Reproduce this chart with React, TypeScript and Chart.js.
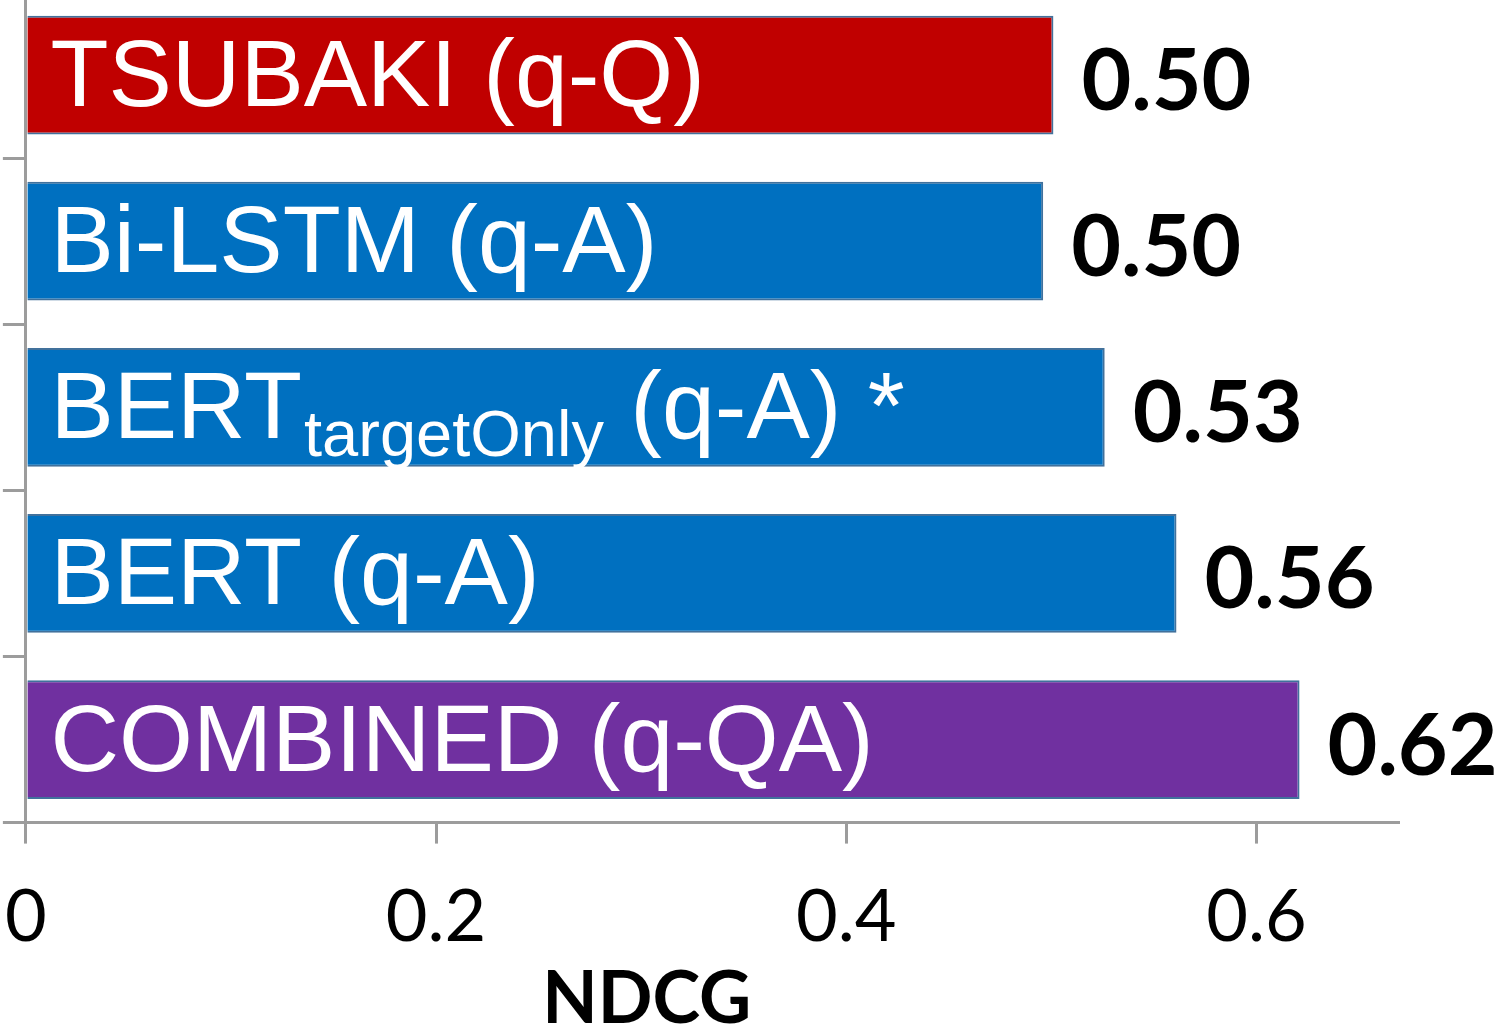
import React, { useEffect, useRef } from "react";
import { Chart, registerables } from "chart.js";

Chart.register(...registerables);

const categories = ["TSUBAKI (q-Q)", "Bi-LSTM (q-A)", "BERT targetOnly (q-A) *", "BERT (q-A)", "COMBINED (q-QA)"];
const labelMain = ["TSUBAKI (q-Q)", "Bi-LSTM (q-A)", "BERT", "BERT (q-A)", "COMBINED (q-QA)"];
const labelSub = ["", "", "targetOnly", "", ""];
const labelTail = ["", "", " (q-A) *", "", ""];
const ndcgValues = [0.501, 0.496, 0.526, 0.561, 0.621];
const barColors = ["#C00000", "#0070C0", "#0070C0", "#0070C0", "#7030A0"];
const xTicks = [0, 0.2, 0.4, 0.6];
const xAxisTitle = "NDCG";

const GRAY = "#9c9c9c";

const labelPlugin = {
  id: "barLabels",
  afterDatasetsDraw(chart: any) {
    const ctx = chart.ctx;
    const meta = chart.getDatasetMeta(0);
    ctx.save();
    ctx.textAlign = "left";
    ctx.textBaseline = "alphabetic";
    meta.data.forEach((bar: any, i: number) => {
      const { x, y, base } = bar.getProps(["x", "y", "base"], true);
      const left = Math.min(x, base) + 23;
      const baseline = y + 31;
      ctx.fillStyle = "#ffffff";
      ctx.font = "95px 'Liberation Sans'";
      ctx.fillText(labelMain[i], left, baseline);
      let cx = left + ctx.measureText(labelMain[i]).width;
      if (labelSub[i]) {
        ctx.font = "65px 'Liberation Sans'";
        cx += 2;
        ctx.fillText(labelSub[i], cx, baseline + 18);
        cx += ctx.measureText(labelSub[i]).width;
      }
      if (labelTail[i]) {
        ctx.font = "95px 'Liberation Sans'";
        ctx.fillText(labelTail[i], cx, baseline);
      }
      ctx.fillStyle = "#000000";
      ctx.font = "bold 86px Lato";
      ctx.fillText(ndcgValues[i].toFixed(2), Math.max(x, base) + 28, y + 35);
    });
    const area = chart.chartArea;
    ctx.textAlign = "center";
    ctx.font = "bold 72px Lato";
    ctx.fillText(xAxisTitle, area.left + (area.right - area.left) * 0.4525, chart.height - 11);
    ctx.restore();
  },
};

const SHIFT_X = 26;
const W = 1503 + SHIFT_X;
const H = 1042;

export default function App() {
  const ref = useRef<HTMLCanvasElement | null>(null);
  useEffect(() => {
    document.body.style.margin = "0";
    document.body.style.overflow = "hidden";
    document.documentElement.style.overflow = "hidden";
    if (!ref.current) return;
    const chart = new Chart(ref.current, {
      type: "bar",
      data: {
        labels: categories,
        datasets: [
          {
            data: ndcgValues,
            backgroundColor: barColors,
            borderColor: "#41719C",
            borderWidth: 2,
            barPercentage: 0.715,
            categoryPercentage: 1,
          },
        ],
      },
      options: {
        indexAxis: "y",
        animation: false,
        responsive: false,
        maintainAspectRatio: false,
        events: [],
        layout: { padding: { left: 0, right: 105, top: 0, bottom: 42 } },
        plugins: {
          legend: { display: false },
          tooltip: { enabled: false },
          title: { display: false },
        },
        scales: {
          x: {
            type: "linear",
            min: 0,
            max: 0.669,
            afterBuildTicks: (scale: any) => {
              scale.ticks = xTicks.map((v) => ({ value: v }));
            },
            ticks: {
              color: "#000000",
              font: { family: "Lato", size: 72 },
              padding: 31,
              callback: (v: any) => (Number(v) === 0 ? "0" : Number(v).toFixed(1)),
            },
            grid: {
              drawOnChartArea: false,
              drawTicks: true,
              tickLength: 21,
              color: GRAY,
              lineWidth: 3,
            },
            border: { display: true, color: GRAY, width: 3 },
          },
          y: {
            type: "category",
            ticks: { display: false },
            grid: {
              offset: true,
              drawOnChartArea: false,
              drawTicks: true,
              tickLength: 23,
              color: GRAY,
              lineWidth: 3,
            },
            border: { display: true, color: GRAY, width: 3 },
          },
        },
      },
      plugins: [labelPlugin],
    });
    return () => chart.destroy();
  }, []);
  return (
    <div style={{ position: "absolute", left: -SHIFT_X, top: -8, width: W, height: H }}>
      <canvas ref={ref} width={W} height={H} style={{ width: W, height: H, display: "block" }} />
    </div>
  );
}
